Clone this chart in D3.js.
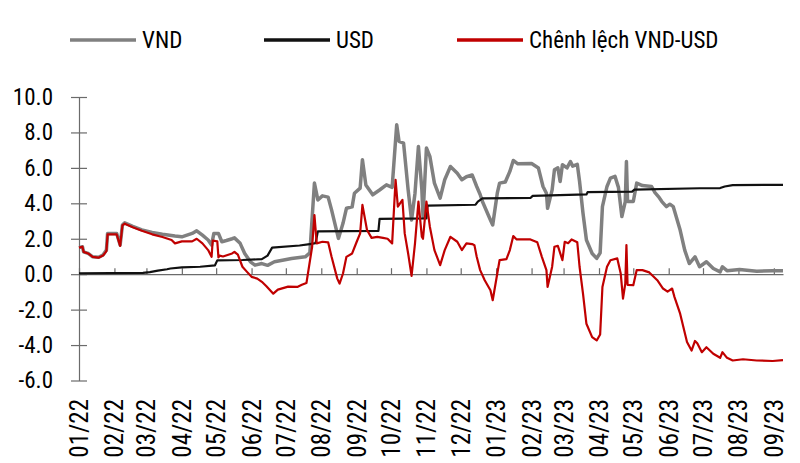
<!DOCTYPE html>
<html><head><meta charset="utf-8">
<script src="https://cdn.jsdelivr.net/npm/d3@7"></script>
<style>
body{margin:0;background:#fff}
svg{display:block}
text{font-family:"Liberation Sans Narrow","Arial Narrow","Roboto Condensed",sans-serif;fill:#000}
</style>
</head><body>
<svg id="chart" width="800" height="463"></svg>
<script>
// ---------- DATA ----------
const seriesNames = ["VND", "USD", "Chênh lệch VND-USD"];
const yTickValues = [-6, -4, -2, 0, 2, 4, 6, 8, 10];
const xTickDates = ["2022-01-01","2022-02-01","2022-03-01","2022-04-01","2022-05-01","2022-06-01","2022-07-01",
  "2022-08-01","2022-09-01","2022-10-01","2022-11-01","2022-12-01","2023-01-01","2023-02-01","2023-03-01",
  "2023-04-01","2023-05-01","2023-06-01","2023-07-01","2023-08-01","2023-09-01"];
const xTickLabels = ["01/22","02/22","03/22","04/22","05/22","06/22","07/22","08/22","09/22","10/22","11/22",
  "12/22","01/23","02/23","03/23","04/23","05/23","06/23","07/23","08/23","09/23"];
const dateStart = "2022-01-01";
const dateEnd = "2023-09-09";

const vndDates = ["2022-01-01","2022-01-04","2022-01-05","2022-01-09","2022-01-13","2022-01-18","2022-01-22","2022-01-25",
  "2022-01-26","2022-02-03","2022-02-06","2022-02-08","2022-02-10","2022-02-17","2022-02-25","2022-03-06","2022-03-15",
  "2022-03-26","2022-04-01","2022-04-10","2022-04-14","2022-04-19","2022-04-24","2022-04-27","2022-04-29","2022-05-03",
  "2022-05-06","2022-05-10","2022-05-15","2022-05-17","2022-05-22","2022-05-26","2022-05-31","2022-06-04","2022-06-10",
  "2022-06-15","2022-06-21","2022-06-28","2022-07-06","2022-07-18","2022-07-22","2022-07-26","2022-07-29","2022-08-02",
  "2022-08-07","2022-08-10","2022-08-16","2022-08-20","2022-08-23","2022-08-28","2022-08-30","2022-09-04","2022-09-06",
  "2022-09-09","2022-09-15","2022-09-21","2022-09-27","2022-10-02","2022-10-06","2022-10-08","2022-10-12","2022-10-16",
  "2022-10-19","2022-10-22","2022-10-25","2022-10-28","2022-10-29","2022-11-01","2022-11-04","2022-11-08","2022-11-13",
  "2022-11-17","2022-11-22","2022-11-28","2022-12-02","2022-12-06","2022-12-11","2022-12-15","2022-12-18","2022-12-20",
  "2022-12-27","2022-12-29","2023-01-02","2023-01-04","2023-01-09","2023-01-13","2023-01-16","2023-01-20","2023-02-01",
  "2023-02-07","2023-02-11","2023-02-14","2023-02-15","2023-02-19","2023-02-21","2023-02-24","2023-02-26","2023-02-28",
  "2023-03-04","2023-03-07","2023-03-09","2023-03-13","2023-03-15","2023-03-18","2023-03-21","2023-03-26","2023-03-30",
  "2023-04-02","2023-04-04","2023-04-08","2023-04-11","2023-04-15","2023-04-18","2023-04-21","2023-04-24","2023-04-25",
  "2023-04-26","2023-05-01","2023-05-04","2023-05-09","2023-05-17","2023-05-20","2023-05-23","2023-05-26","2023-05-30",
  "2023-06-02","2023-06-05","2023-06-11","2023-06-15","2023-06-19","2023-06-24","2023-06-28","2023-07-04","2023-07-10",
  "2023-07-16","2023-07-18","2023-07-22","2023-08-02","2023-08-17","2023-08-31","2023-09-09"];
const vndValues = [1.5,1.55,1.26,1.17,0.98,0.95,1.08,1.36,
  2.3,2.3,1.64,2.78,2.9,2.7,2.5,2.35,2.25,
  2.15,2.11,2.3,2.45,2.2,1.93,1.64,2.3,2.3,
  1.83,1.9,2.0,2.05,1.74,1.17,0.7,0.51,0.6,
  0.5,0.7,0.79,0.89,0.98,1.2,5.14,4.19,4.42,
  4.35,3.63,2.02,2.87,3.72,3.8,4.57,4.86,6.46,
  5.04,4.48,4.75,5.04,4.9,8.44,7.5,7.4,4.76,
  3.06,4.57,7.21,4.76,3.25,7.12,6.65,5.14,4.29,
  5.33,6.08,5.7,5.33,5.5,5.6,4.95,4.5,4.1,
  3.06,2.78,4.57,5.14,5.2,5.8,6.42,6.23,6.25,
  5.99,4.95,4.57,3.72,4.76,5.89,6.0,5.23,6.18,
  6.0,6.36,6.1,6.2,5.23,3.44,1.93,1.17,0.89,
  1.2,3.81,4.95,5.42,5.52,4.9,3.25,4.1,6.36,
  4.1,4.1,5.14,5.0,4.95,4.6,4.38,4.1,3.81,
  3.95,3.81,2.49,1.36,0.6,0.98,0.42,0.7,0.32,
  0.13,0.42,0.2,0.27,0.17,0.2,0.19];

const usdDates = ["2022-01-01","2022-02-26","2022-03-04","2022-03-11","2022-03-19","2022-03-22","2022-04-01","2022-04-17",
  "2022-04-30","2022-05-02","2022-05-24","2022-06-10","2022-06-15","2022-06-19","2022-07-13","2022-07-22","2022-07-27",
  "2022-07-29","2022-09-20","2022-09-21","2022-11-01","2022-11-02","2022-12-14","2022-12-16","2022-12-20","2023-01-31",
  "2023-02-02","2023-03-21","2023-03-22","2023-04-30","2023-05-02","2023-06-28","2023-07-16","2023-07-20","2023-07-27",
  "2023-09-09"];
const usdValues = [0.05,0.07,0.12,0.2,0.28,0.32,0.38,0.42,
  0.5,0.78,0.8,0.85,1.05,1.5,1.62,1.7,1.75,
  2.42,2.45,3.12,3.15,3.87,3.92,4.1,4.28,4.3,
  4.42,4.5,4.63,4.66,4.77,4.85,4.86,4.95,5.03,
  5.04];

const diffDates = ["2022-01-01","2022-01-04","2022-01-05","2022-01-09","2022-01-13","2022-01-18","2022-01-22","2022-01-25",
  "2022-01-26","2022-02-03","2022-02-06","2022-02-08","2022-02-10","2022-02-17","2022-02-25","2022-03-06","2022-03-15",
  "2022-03-23","2022-03-26","2022-04-01","2022-04-10","2022-04-14","2022-04-19","2022-04-24","2022-04-27","2022-04-28",
  "2022-05-02","2022-05-03","2022-05-04","2022-05-07","2022-05-15","2022-05-17","2022-05-20","2022-05-24","2022-05-28",
  "2022-06-01","2022-06-06","2022-06-10","2022-06-14","2022-06-20","2022-06-24","2022-07-03","2022-07-11","2022-07-15",
  "2022-07-19","2022-07-24","2022-07-26","2022-07-28","2022-08-02","2022-08-07","2022-08-10","2022-08-15","2022-08-17",
  "2022-08-20","2022-08-23","2022-08-28","2022-09-01","2022-09-04","2022-09-06","2022-09-10","2022-09-14","2022-09-19",
  "2022-09-24","2022-09-28","2022-10-02","2022-10-05","2022-10-07","2022-10-11","2022-10-13","2022-10-16","2022-10-19",
  "2022-10-22","2022-10-25","2022-10-28","2022-10-29","2022-11-01","2022-11-04","2022-11-08","2022-11-13","2022-11-17",
  "2022-11-22","2022-11-28","2022-12-02","2022-12-06","2022-12-11","2022-12-13","2022-12-15","2022-12-18","2022-12-22",
  "2022-12-27","2022-12-29","2023-01-02","2023-01-04","2023-01-10","2023-01-13","2023-01-16","2023-01-19","2023-01-31",
  "2023-02-06","2023-02-10","2023-02-14","2023-02-15","2023-02-19","2023-02-21","2023-02-24","2023-02-28","2023-03-02",
  "2023-03-05","2023-03-08","2023-03-13","2023-03-15","2023-03-18","2023-03-21","2023-03-26","2023-03-30","2023-04-02",
  "2023-04-04","2023-04-08","2023-04-11","2023-04-17","2023-04-20","2023-04-22","2023-04-24","2023-04-25","2023-04-26",
  "2023-05-01","2023-05-04","2023-05-09","2023-05-15","2023-05-22","2023-05-27","2023-05-31","2023-06-04","2023-06-06",
  "2023-06-11","2023-06-17","2023-06-21","2023-06-24","2023-06-26","2023-06-30","2023-07-04","2023-07-10","2023-07-16",
  "2023-07-18","2023-07-22","2023-07-27","2023-08-05","2023-08-17","2023-08-31","2023-09-09"];
const diffValues = [1.5,1.55,1.26,1.17,0.98,0.93,1.05,1.3,
  2.25,2.25,1.6,2.75,2.85,2.65,2.45,2.25,2.1,
  1.93,1.74,1.85,1.85,2.0,1.74,1.36,0.98,1.9,
  1.85,0.95,1.05,1.0,1.17,1.26,1.1,0.42,0.13,
  -0.15,-0.25,-0.43,-0.68,-1.1,-0.87,-0.7,-0.72,-0.6,
  -0.5,1.55,3.34,1.74,1.83,1.8,0.98,-0.25,-0.53,
  0.04,0.98,1.17,1.83,2.3,3.91,2.49,2.05,2.11,
  2.05,2.0,1.74,5.33,3.81,4.19,2.3,1.17,-0.1,
  1.74,4.1,2.11,2.0,4.1,2.68,1.36,0.51,1.36,
  2.11,1.83,1.36,1.74,1.7,1.64,0.98,0.23,-0.34,
  -0.91,-1.47,0.04,0.79,0.85,1.36,2.15,1.96,1.96,
  1.8,0.98,0.23,-0.72,0.42,1.55,1.6,0.79,1.83,
  1.75,1.96,1.8,0.42,-1.1,-2.8,-3.55,-3.74,-3.4,
  -0.72,0.42,0.79,0.89,0.04,-1.38,-0.53,1.64,-0.6,
  -0.62,0.23,0.23,0.1,-0.34,-0.81,-0.98,-0.81,-1.28,
  -2.23,-3.83,-4.31,-3.77,-3.9,-4.4,-4.12,-4.49,-4.72,
  -4.4,-4.72,-4.87,-4.8,-4.87,-4.9,-4.85];

// ---------- DRAW ----------
const parse = d3.utcParse("%Y-%m-%d");
const svg = d3.select("#chart");

const x = d3.scaleUtc().domain([parse(dateStart), parse(dateEnd)]).range([79, 783]);
const y = d3.scaleLinear().domain([-6, 10]).range([380.5, 97]);

const axisColor = "#6b6b6b";

// Y axis
const yAxis = svg.append("g").attr("transform", "translate(79,0)")
  .call(d3.axisLeft(y).tickValues(yTickValues).tickSizeInner(8).tickSizeOuter(0)
    .tickPadding(18).tickFormat(d => d.toFixed(1)));
yAxis.select(".domain").attr("stroke", axisColor).attr("stroke-width", 1.2);
yAxis.selectAll(".tick line").attr("x1", 8).attr("stroke", axisColor).attr("stroke-width", 1.2);
yAxis.selectAll(".tick text").style("font-size", "23px").attr("fill", "#000");

// X axis at zero, ticks pointing up, no labels
const xAxis = svg.append("g").attr("transform", `translate(0,${y(0)})`)
  .call(d3.axisTop(x).tickValues(xTickDates.map(parse)).tickSizeInner(6).tickSizeOuter(0).tickFormat(""));
xAxis.select(".domain").attr("stroke", axisColor).attr("stroke-width", 1.2);
xAxis.selectAll(".tick line").attr("stroke", axisColor).attr("stroke-width", 1.2);

// X labels (rotated)
svg.append("g").selectAll("text").data(xTickDates).join("text")
  .attr("transform", d => `translate(${x(parse(d))},399) rotate(-90)`)
  .attr("text-anchor", "end").attr("dy", "0.36em")
  .style("font-size", "25px")
  .text((d, i) => xTickLabels[i]);

// Lines
const zip = (ds, vs) => ds.map((d, i) => ({date: parse(d), value: vs[i]}));
const line = d3.line().x(d => x(d.date)).y(d => y(d.value));
const series = [
  {name: seriesNames[0], data: zip(vndDates, vndValues), color: "#808080", width: 3.5},
  {name: seriesNames[1], data: zip(usdDates, usdValues), color: "#111111", width: 2.2},
  {name: seriesNames[2], data: zip(diffDates, diffValues), color: "#c00000", width: 2.2}
];
svg.append("g").selectAll("path").data(series).join("path")
  .attr("d", d => line(d.data))
  .attr("fill", "none")
  .attr("stroke", d => d.color)
  .attr("stroke-width", d => d.width)
  .attr("stroke-linejoin", "round");

// Legend
const legendX = [70, 264, 457];
const lg = svg.append("g").selectAll("g").data(series).join("g")
  .attr("transform", (d, i) => `translate(${legendX[i]},40)`);
lg.append("line").attr("x1", 0).attr("x2", 66).attr("y1", 0).attr("y2", 0)
  .attr("stroke", d => d.color).attr("stroke-width", 3.5);
lg.append("text").attr("x", 72).attr("dy", "0.36em").style("font-size", "23px").text(d => d.name);
</script>
</body></html>
